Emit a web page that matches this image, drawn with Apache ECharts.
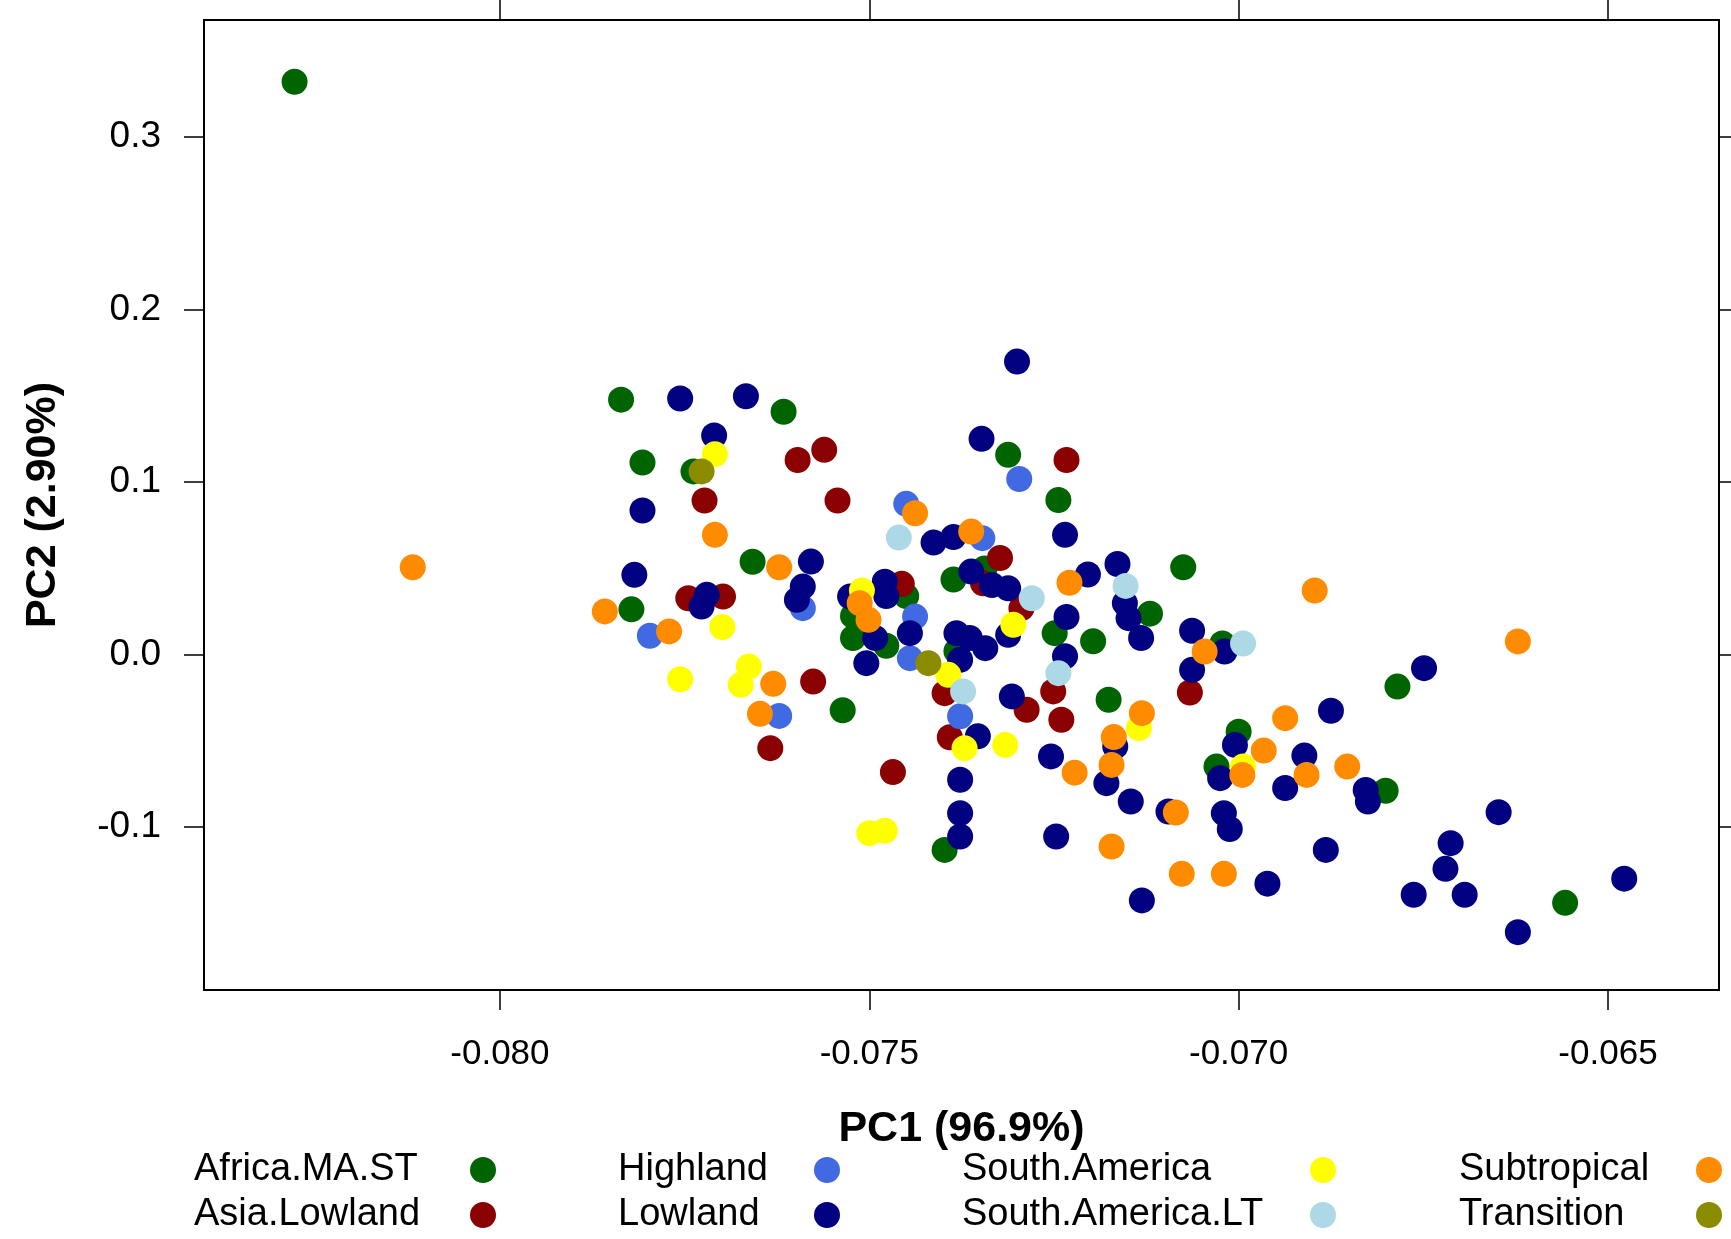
<!DOCTYPE html>
<html lang="en">
  <head>
    <meta charset="UTF-8" />
    <title>PCA scatter</title>
    <script src="https://cdn.jsdelivr.net/npm/echarts@6.0.0/dist/echarts.min.js"></script>
    <style>
      html, body { margin: 0; padding: 0; background: #fff; }
    </style>
  </head>
  <body>
    <div id="main" style="width: 1731px; height: 1239px"></div>
    <script type="text/javascript">
      // group names (legend order) and their colours
      const groups = ['Africa.MA.ST', 'Asia.Lowland', 'Highland', 'Lowland',
        'South.America', 'South.America.LT', 'Subtropical', 'Transition'];
      const groupColors = ['#006400', '#8B0000', '#4169E1', '#000080',
        '#FFFF00', '#ADD8E6', '#FF8C00', '#8B8B00'];

      // tick values
      const xTicks = [-0.080, -0.075, -0.070, -0.065];
      const yTicks = [-0.1, 0.0, 0.1, 0.2, 0.3];

      // [PC1, PC2] per group
      const africaMAST = [
        [-0.08278, 0.3322], [-0.07836, 0.1478], [-0.07616, 0.1408], [-0.07807, 0.1114],
        [-0.07738, 0.1062], [-0.07658, 0.0538], [-0.07822, 0.0262], [-0.07312, 0.1158],
        [-0.07244, 0.0896], [-0.07075, 0.0506], [-0.07386, 0.0435], [-0.07344, 0.0499],
        [-0.07450, 0.0339], [-0.07522, 0.0224], [-0.07522, 0.0096], [-0.07477, 0.0051],
        [-0.07382, 0.0019], [-0.07249, 0.0124], [-0.07197, 0.0077], [-0.07120, 0.0237],
        [-0.07176, -0.0262], [-0.07536, -0.0323], [-0.07398, -0.1133], [-0.07022, 0.0064],
        [-0.07000, -0.0448], [-0.07030, -0.0650], [-0.06801, -0.0790], [-0.06785, -0.0186],
        [-0.06558, -0.1440]
      ];
      const asiaLowland = [
        [-0.07597, 0.1128], [-0.07561, 0.1187], [-0.07723, 0.0893], [-0.07543, 0.0893],
        [-0.07745, 0.0326], [-0.07698, 0.0336], [-0.07233, 0.1128], [-0.07323, 0.0560],
        [-0.07346, 0.0413], [-0.07456, 0.0410], [-0.07294, 0.0269], [-0.07251, -0.0214],
        [-0.07287, -0.0320], [-0.07240, -0.0378], [-0.07066, -0.0220], [-0.07576, -0.0157],
        [-0.07634, -0.0543], [-0.07468, -0.0682], [-0.07398, -0.0224], [-0.07391, -0.0480]
      ];
      const highland = [
        [-0.07450, 0.0874], [-0.07297, 0.1018], [-0.07347, 0.0675], [-0.07590, 0.0269],
        [-0.07438, 0.0220], [-0.07797, 0.0109], [-0.07445, -0.0021], [-0.07377, -0.0358],
        [-0.07622, -0.0356]
      ];
      const lowland = [
        [-0.07756, 0.1485], [-0.07667, 0.1498], [-0.07710, 0.1270], [-0.07807, 0.0835],
        [-0.07818, 0.0462], [-0.07720, 0.0346], [-0.07727, 0.0278], [-0.07579, 0.0539],
        [-0.07590, 0.0394], [-0.07598, 0.0317], [-0.07300, 0.1699], [-0.07348, 0.1251],
        [-0.07235, 0.0694], [-0.07413, 0.0649], [-0.07386, 0.0682], [-0.07362, 0.0481],
        [-0.07334, 0.0403], [-0.07312, 0.0384], [-0.07204, 0.0464], [-0.07164, 0.0525],
        [-0.07479, 0.0422], [-0.07477, 0.0339], [-0.07526, 0.0336], [-0.07445, 0.0124],
        [-0.07492, 0.0096], [-0.07504, -0.0050], [-0.07382, 0.0124], [-0.07364, 0.0096],
        [-0.07343, 0.0037], [-0.07377, -0.0031], [-0.07312, 0.0114], [-0.07233, 0.0218],
        [-0.07235, -0.0010], [-0.07154, 0.0298], [-0.07149, 0.0211], [-0.07063, 0.0138],
        [-0.07132, 0.0096], [-0.07019, 0.0017], [-0.07063, -0.0089], [-0.07307, -0.0243],
        [-0.07353, -0.0474], [-0.07377, -0.0726], [-0.07377, -0.0920], [-0.07377, -0.1055],
        [-0.07254, -0.0591], [-0.07247, -0.1055], [-0.07179, -0.0746], [-0.07146, -0.0852],
        [-0.07167, -0.0533], [-0.07131, -0.1426], [-0.07095, -0.0910], [-0.07020, -0.0920],
        [-0.07012, -0.1012], [-0.06961, -0.1329], [-0.07005, -0.0524], [-0.07025, -0.0717],
        [-0.06937, -0.0774], [-0.06911, -0.0586], [-0.06875, -0.0326], [-0.06828, -0.0785],
        [-0.06825, -0.0852], [-0.06882, -0.1133], [-0.06749, -0.0079], [-0.06648, -0.0914],
        [-0.06713, -0.1094], [-0.06720, -0.1243], [-0.06763, -0.1393], [-0.06694, -0.1393],
        [-0.06622, -0.1610], [-0.06478, -0.1300]
      ];
      const southAmerica = [
        [-0.07709, 0.1162], [-0.07699, 0.0160], [-0.07510, 0.0371], [-0.07305, 0.0173],
        [-0.07756, -0.0143], [-0.07663, -0.0070], [-0.07674, -0.0176], [-0.07393, -0.0118],
        [-0.07371, -0.0543], [-0.07316, -0.0524], [-0.07135, -0.0427], [-0.06994, -0.0650],
        [-0.07500, -0.1036], [-0.07479, -0.1022]
      ];
      const southAmericaLT = [
        [-0.07460, 0.0678], [-0.07280, 0.0326], [-0.07153, 0.0398], [-0.06994, 0.0064],
        [-0.07244, -0.0108], [-0.07373, -0.0214]
      ];
      const subtropical = [
        [-0.08118, 0.0506], [-0.07858, 0.0250], [-0.07709, 0.0694], [-0.07622, 0.0506],
        [-0.07438, 0.0819], [-0.07362, 0.0713], [-0.07229, 0.0416], [-0.07513, 0.0298],
        [-0.07501, 0.0201], [-0.07771, 0.0134], [-0.07630, -0.0170], [-0.07648, -0.0344],
        [-0.07046, 0.0017], [-0.06897, 0.0371], [-0.06622, 0.0076], [-0.07131, -0.0340],
        [-0.07169, -0.0479], [-0.07172, -0.0640], [-0.07222, -0.0685], [-0.07172, -0.1113],
        [-0.07085, -0.0916], [-0.07077, -0.1272], [-0.07020, -0.1272], [-0.06937, -0.0369],
        [-0.06966, -0.0557], [-0.06995, -0.0698], [-0.06908, -0.0698], [-0.06853, -0.0650]
      ];
      const transition = [
        [-0.07727, 0.1062], [-0.07420, -0.0050]
      ];

      const groupData = [africaMAST, asiaLowland, highland, lowland,
        southAmerica, southAmericaLT, subtropical, transition];

      const tickFont = "'Liberation Sans', Arial, sans-serif";
      const textFont = "'Liberation Sans', Arial, sans-serif";
      const xRange = [-0.084006, -0.063497];
      const yRange = [-0.19456, 0.368];

      let myChart = echarts.init(document.getElementById('main'), null, { renderer: 'canvas' });

      const tickLine = { show: true, length: 20, lineStyle: { color: '#000', width: 1.5 } };

      // legend: 4 columns of 2 rows, text left and dot on the right
      const legendLefts = [194, 618, 962, 1459];
      const textWidths = [271, 191, 343, 232];
      const legends = [0, 1, 2, 3].map((c) => ({
        data: [groups[c * 2], groups[c * 2 + 1]],
        orient: 'vertical',
        align: 'right',
        left: legendLefts[c],
        top: 1151,
        height: 120,
        padding: 0,
        itemWidth: 26,
        itemHeight: 26,
        itemGap: 7,
        icon: 'circle',
        selectedMode: false,
        formatter: (name) => '{t|' + name + '}',
        textStyle: {
          fontFamily: textFont,
          fontSize: 38,
          lineHeight: 26,
          color: '#000',
          rich: {
            t: { width: textWidths[c], align: 'left', fontFamily: textFont, fontSize: 38, color: '#000', lineHeight: 26 }
          }
        }
      }));

      let options = {
        backgroundColor: '#fff',
        animation: false,
        grid: {
          left: 204, right: 12, top: 20, bottom: 249,
          show: true, borderColor: '#000', borderWidth: 2,
          backgroundColor: '#fff',
          outerBoundsMode: 'none'
        },
        legend: legends,
        xAxis: [
          {
            type: 'value', min: xRange[0], max: xRange[1], position: 'bottom',
            axisLine: { show: false, onZero: false },
            axisTick: Object.assign({ customValues: xTicks }, tickLine),
            splitLine: { show: false },
            axisLabel: {
              customValues: xTicks, margin: 47,
              fontFamily: tickFont, fontSize: 35, color: '#000',
              formatter: (v) => v.toFixed(3)
            },
            name: 'PC1 (96.9%)', nameLocation: 'middle', nameGap: 118,
            nameTextStyle: { fontFamily: textFont, fontWeight: 'bold', fontSize: 43, color: '#000' }
          },
          {
            type: 'value', min: xRange[0], max: xRange[1], position: 'top',
            axisLine: { show: false, onZero: false },
            axisTick: Object.assign({ customValues: xTicks }, tickLine),
            splitLine: { show: false },
            axisLabel: { show: false }
          }
        ],
        yAxis: [
          {
            type: 'value', min: yRange[0], max: yRange[1], position: 'left',
            axisLine: { show: false, onZero: false },
            axisTick: Object.assign({ customValues: yTicks }, tickLine),
            splitLine: { show: false },
            axisLabel: {
              customValues: yTicks, margin: 43,
              fontFamily: tickFont, fontSize: 37, color: '#000',
              formatter: (v) => v.toFixed(1)
            },
            name: 'PC2 (2.90%)', nameLocation: 'middle', nameGap: 139,
            nameMoveOverlap: false,
            nameTextStyle: { fontFamily: textFont, fontWeight: 'bold', fontSize: 43, color: '#000' }
          },
          {
            type: 'value', min: yRange[0], max: yRange[1], position: 'right',
            axisLine: { show: false, onZero: false },
            axisTick: Object.assign({ customValues: yTicks }, tickLine),
            splitLine: { show: false },
            axisLabel: { show: false }
          }
        ],
        series: groups.map((name, i) => ({
          name: name,
          type: 'scatter',
          xAxisIndex: 0,
          yAxisIndex: 0,
          symbol: 'circle',
          symbolSize: 26,
          itemStyle: { color: groupColors[i], opacity: 1 },
          emphasis: { disabled: true },
          data: groupData[i]
        }))
      };

      myChart.setOption(options);
    </script>
  </body>
</html>
